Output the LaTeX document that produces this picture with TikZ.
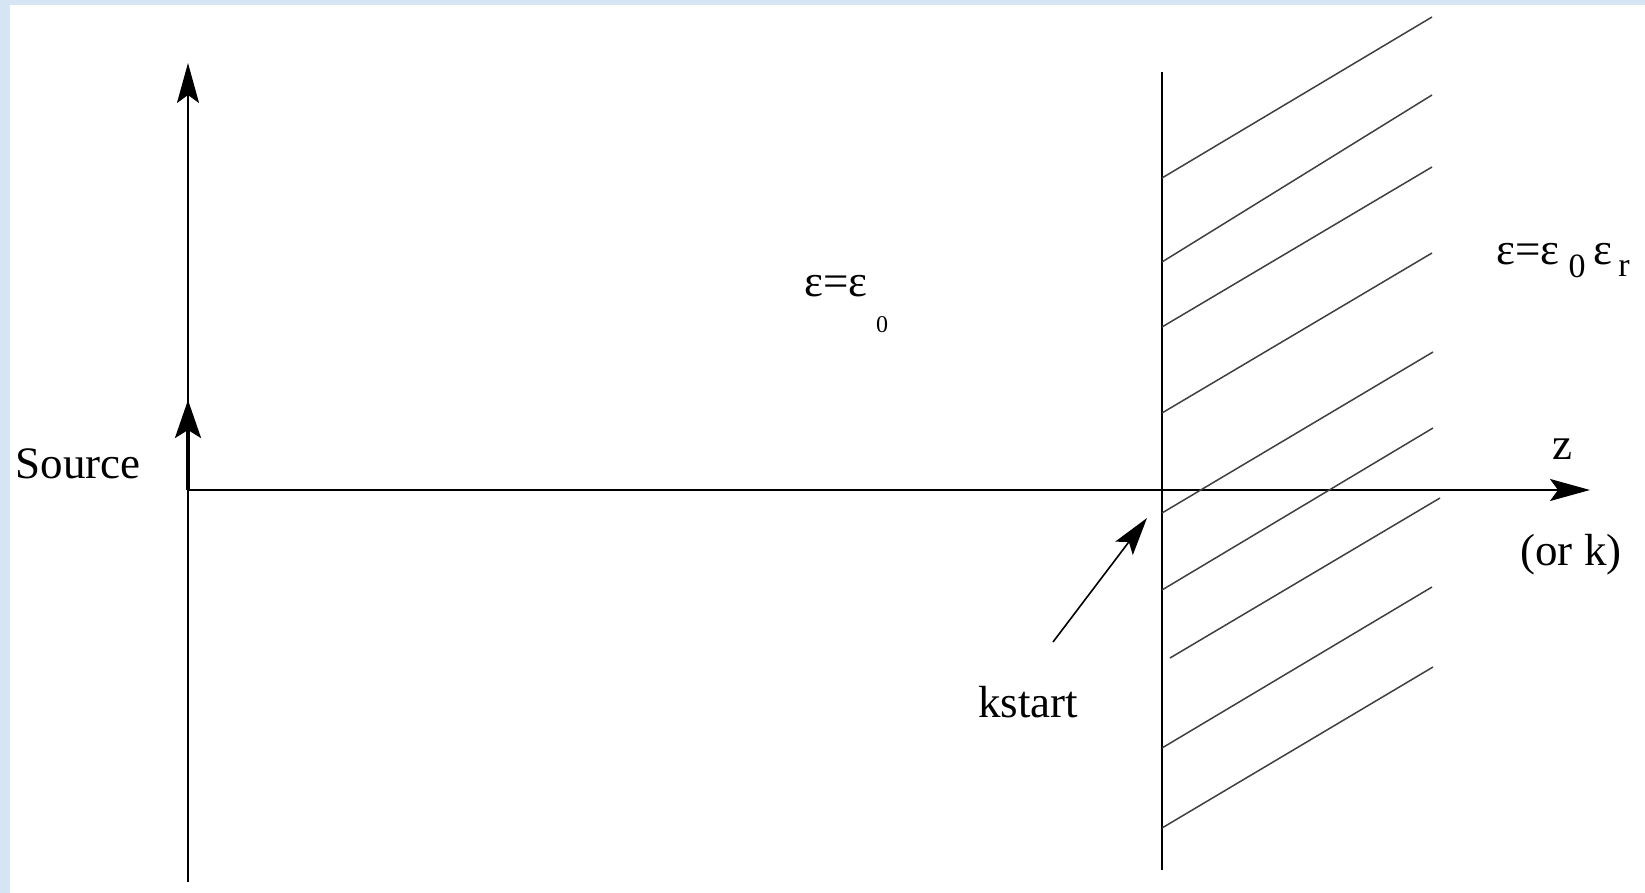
\documentclass[tikz,border=0pt]{standalone}
\usepackage{fontspec}
\setmainfont{Liberation Serif}
\usetikzlibrary{arrows.meta}
\definecolor{bgblue}{RGB}{214,229,244}
\tikzset{
  axisline/.style={line width=1pt, -{Stealth[length=20pt,width=11pt,inset=4pt]}},
  srcline/.style={line width=1.6pt, -{Stealth[length=19pt,width=13pt,inset=4pt]}},
  ptrline/.style={line width=0.8pt, -{Stealth[length=19pt,width=11pt,inset=4pt]}},
  wallline/.style={line width=1pt},
  hatchline/.style={line width=0.75pt, draw=black!75},
  lbl/.style={inner sep=0pt, anchor=base, font=\fontsize{22.5}{27}\selectfont},
  sublbl/.style={inner sep=0pt, anchor=base},
}
\begin{document}
\begin{tikzpicture}[x=0.5pt,y=-0.5pt]
\useasboundingbox (0,0) rectangle (1645,893);
\fill[bgblue] (0,0) rectangle (1645,893);
\fill[white] (10,5) rectangle (1645,893);

% axes
\coordinate (O) at (188,490);
\coordinate (Ybot) at (188,882);
\coordinate (Ytop) at (188,63);
\coordinate (Xend) at (1590,490);
\coordinate (Srctip) at (188,400);
\draw[axisline] (Ybot) -- (Ytop);
\draw[axisline] (O) -- (Xend);
\draw[srcline] (O) -- (Srctip);

% wall
\coordinate (Wtop) at (1162,72);
\coordinate (Wbot) at (1162,870);
\draw[wallline] (Wtop) -- (Wbot);

% hatching
\foreach \xa/\ya/\xb/\yb [count=\i] in {
  1162/178/1432/17,
  1162/262/1432/95,
  1162/327/1432/167,
  1162/413/1432/253,
  1162/513/1433/352,
  1162/590/1433/428,
  1170/658/1440/498,
  1162/748/1432/587,
  1162/828/1433/667}{
  \coordinate (h\i a) at (\xa,\ya);
  \coordinate (h\i b) at (\xb,\yb);
  \draw[hatchline] (h\i a) -- (h\i b);
}

% labels
\node[lbl] (source) at (78,478) {Source};
\node[lbl] (kstart) at (1028,717) {kstart};
\node[lbl] (zlbl) at (1562,459) {z};
\node[lbl] (ork) at (1571,565) {(or k)};

\node[lbl, anchor=base west] (eps0) at (804,297) {ε=ε};
\node[sublbl, font=\fontsize{12}{14}\selectfont] (eps0sub) at (882,333) {0};

\node[lbl, anchor=base west] (epsr) at (1496,265) {ε=ε};
\node[sublbl, font=\fontsize{17}{20}\selectfont] (epsrsub0) at (1577,278) {0};
\node[lbl, anchor=base west] (epsr2) at (1593,265) {ε};
\node[sublbl, font=\fontsize{17}{20}\selectfont] (epsrsubr) at (1624,277) {r};

% kstart pointer
\coordinate (kptr) at (1053,642);
\coordinate (ktip) at (1147,518);
\draw[ptrline] (kptr) -- (ktip);
\end{tikzpicture}
\end{document}
